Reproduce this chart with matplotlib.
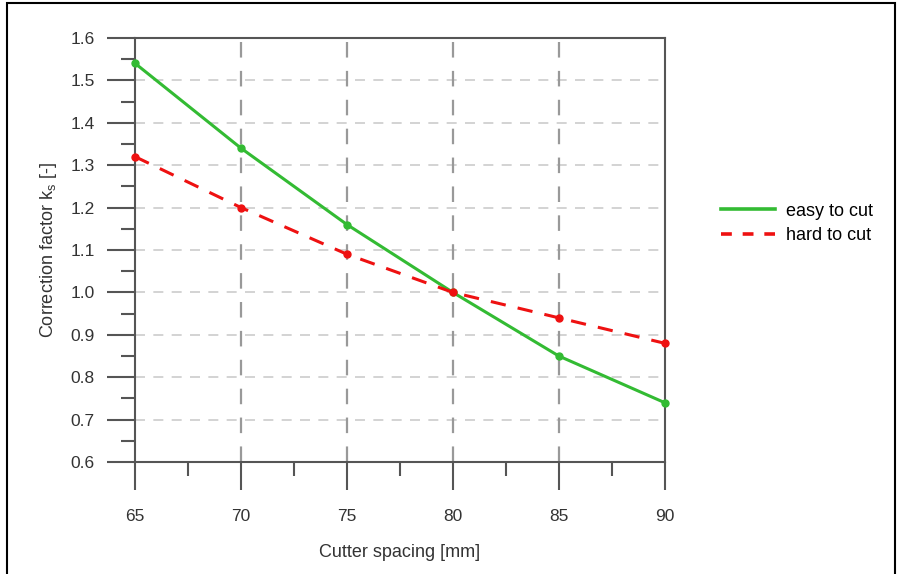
import matplotlib
matplotlib.use("Agg")
import matplotlib.pyplot as plt
from matplotlib.lines import Line2D
from matplotlib.patches import Rectangle
from matplotlib.ticker import MultipleLocator

plt.rcParams['font.family'] = ['Liberation Sans', 'DejaVu Sans']

spacing = [65, 70, 75, 80, 85, 90]
easy_to_cut = [1.54, 1.34, 1.16, 1.00, 0.85, 0.74]
hard_to_cut = [1.32, 1.20, 1.09, 1.00, 0.94, 0.88]

green = '#33bb33'
red = '#ee1111'

fig = plt.figure(figsize=(9.02, 5.74), dpi=100)
ax = fig.add_axes([0.1497, 0.195, 0.5873, 0.739])

# grid
for y in [0.7, 0.8, 0.9, 1.0, 1.1, 1.2, 1.3, 1.4, 1.5]:
    ax.axhline(y, color='#cccccc', lw=1.2, dashes=(6, 5), zorder=1)
for x in [70, 75, 80, 85]:
    ax.axvline(x, color='#999999', lw=1.6, dashes=(7, 6), zorder=1)

ax.plot(spacing, easy_to_cut, color=green, lw=2.2, marker='o', ms=5,
        zorder=3, clip_on=False)
ax.plot(spacing, hard_to_cut, color=red, lw=2.2, dashes=(5, 4), marker='o',
        ms=5, zorder=3, clip_on=False)

ax.set_xlim(65, 90)
ax.set_ylim(0.6, 1.6)
ax.xaxis.set_major_locator(MultipleLocator(5))
ax.xaxis.set_minor_locator(MultipleLocator(2.5))
ax.yaxis.set_minor_locator(MultipleLocator(0.05))
ax.set_yticks([0.6, 0.7, 0.8, 0.9, 1.0, 1.1, 1.2, 1.3, 1.4, 1.5, 1.6])
ax.set_yticklabels(['0.6', '0.7', '0.8', '0.9', '1.0', '1.1', '1.2', '1.3', '1.4', '1.5', '1.6'])

for s in ax.spines.values():
    s.set_color('#555555')
    s.set_linewidth(1.5)

ax.tick_params(which='major', length=20, width=1.5, color='#555555', direction='out',
               labelsize=12.5, labelcolor='#333333', pad=9)
ax.tick_params(which='minor', length=10, width=1.5, color='#555555', direction='out')
ax.tick_params(axis='x', pad=14)

ax.set_xlabel('Cutter spacing [mm]', fontsize=13, color='#333333', labelpad=14)
ax.set_ylabel('Correction factor k$_\\mathregular{s}$ [-]', fontsize=13, color='#333333',
              labelpad=8)

handles = [Line2D([], [], color=green, lw=2.6),
           Line2D([], [], color=red, lw=2.6, dashes=(3, 3))]
fig.legend(handles, ['easy to cut', 'hard to cut'], loc='center left',
           bbox_to_anchor=(0.781, 0.611), frameon=False, fontsize=13,
           handlelength=3.0, labelspacing=0.4, handletextpad=0.6)

fig.patches.append(Rectangle((7 / 902, -0.05), 888 / 902, 1.0 - 3 / 574 + 0.05,
                             transform=fig.transFigure, fill=False, ec='black', lw=1.5))

fig.savefig('out.png', dpi=100)
